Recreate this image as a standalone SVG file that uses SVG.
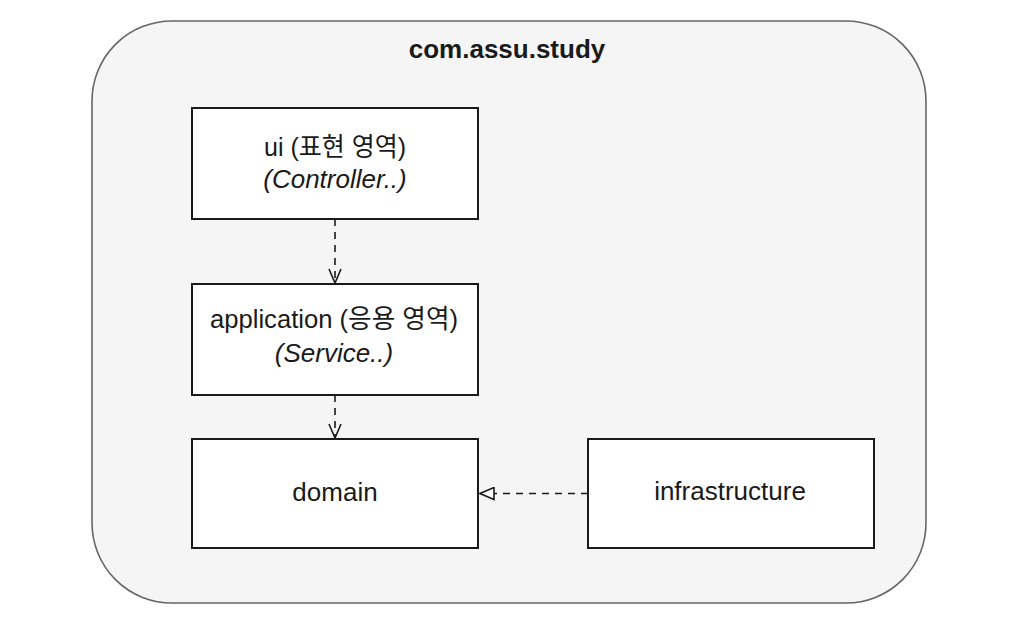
<svg xmlns="http://www.w3.org/2000/svg" width="1020" height="626" viewBox="0 0 1020 626">
  <defs>
    <style>
      .box { fill: #ffffff; stroke: #1a1a1a; stroke-width: 2; }
      .lbl { font-family: "Liberation Sans", Arial, "Noto Sans CJK KR", sans-serif; font-size: 26px; fill: #1a1a1a; text-anchor: middle; }
      .it { font-style: italic; }
      .edge { fill: none; stroke: #1a1a1a; stroke-width: 1.6; stroke-dasharray: 7 6; }
    </style>
    <marker id="open" viewBox="0 0 16 14" refX="15" refY="7" markerWidth="16" markerHeight="14" markerUnits="userSpaceOnUse" orient="auto">
      <path d="M1,1 L15,7 L1,13" fill="none" stroke="#1a1a1a" stroke-width="1.6"/>
    </marker>
    <marker id="tri" viewBox="0 0 16 14" refX="15" refY="7" markerWidth="16" markerHeight="14" markerUnits="userSpaceOnUse" orient="auto">
      <path d="M1,1 L15,7 L1,13 Z" fill="#ffffff" stroke="#1a1a1a" stroke-width="1.6"/>
    </marker>
  </defs>
  <rect width="1020" height="626" fill="#ffffff"/>
  <g id="package">
    <rect x="92" y="21" width="834" height="582" rx="80" ry="80" fill="#f5f5f5" stroke="#666666" stroke-width="1.6"/>
    <text x="507" y="58" class="lbl" font-weight="bold">com.assu.study</text>
  </g>
  <g id="connectors">
    <path class="edge" d="M335,219 L335,283" marker-end="url(#open)"/>
    <path class="edge" d="M335,395 L335,438" marker-end="url(#open)"/>
    <path class="edge" d="M588,493.5 L480,493.5" marker-end="url(#tri)"/>
  </g>
  <g id="ui">
    <rect class="box" x="192" y="108" width="286" height="111"/>
    <text x="335" y="155.5" class="lbl" textLength="142" lengthAdjust="spacingAndGlyphs">ui (표현 영역)</text>
    <text x="335" y="188" class="lbl it">(Controller..)</text>
  </g>
  <g id="application">
    <rect class="box" x="192" y="284" width="286" height="111"/>
    <text x="334" y="328" class="lbl" textLength="248" lengthAdjust="spacingAndGlyphs">application (응용 영역)</text>
    <text x="334" y="362" class="lbl it">(Service..)</text>
  </g>
  <g id="domain">
    <rect class="box" x="192" y="439" width="286" height="109"/>
    <text x="335" y="501" class="lbl">domain</text>
  </g>
  <g id="infrastructure">
    <rect class="box" x="588" y="439" width="286" height="109"/>
    <text x="730" y="500" class="lbl">infrastructure</text>
  </g>
</svg>
